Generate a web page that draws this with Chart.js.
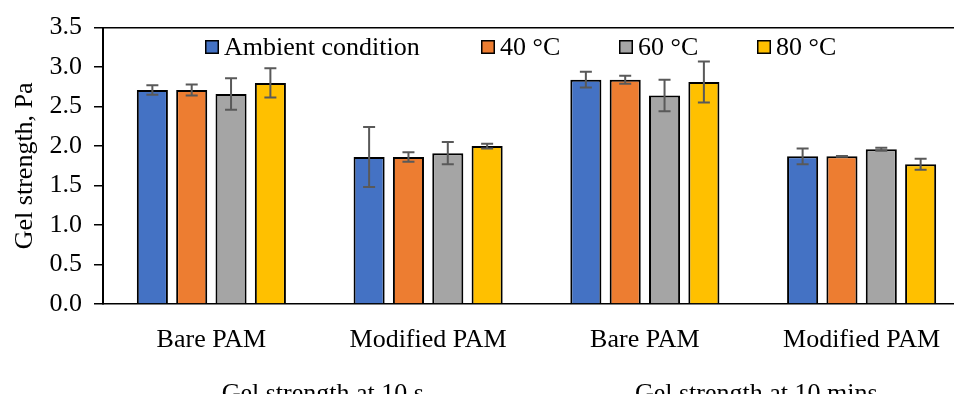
<!DOCTYPE html>
<html>
<head>
<meta charset="utf-8">
<script src="https://cdn.jsdelivr.net/npm/chart.js@4.4.1/dist/chart.umd.min.js"></script>
<style>
html,body{margin:0;padding:0;background:#fff;overflow:hidden;width:954px;height:394px;}
canvas{display:block;}
</style>
</head>
<body>
<canvas id="c" width="970" height="394" style="width:970px;height:394px"></canvas>
<script>
const categories = ['Bare PAM', 'Modified PAM', 'Bare PAM', 'Modified PAM'];
const groupLabels = ['Gel strength at 10 s', 'Gel strength at 10 mins'];
const seriesNames = ['Ambient condition', '40 °C', '60 °C', '80 °C'];
const ambient = [2.71, 1.86, 2.84, 1.87];
const ambientErr = [0.06, 0.38, 0.10, 0.10];
const t40 = [2.71, 1.86, 2.84, 1.87];
const t40Err = [0.07, 0.06, 0.05, 0.005];
const t60 = [2.66, 1.91, 2.64, 1.96];
const t60Err = [0.20, 0.14, 0.20, 0.02];
const t80 = [2.80, 2.00, 2.81, 1.77];
const t80Err = [0.185, 0.03, 0.26, 0.07];
const yTicks = [0, 0.5, 1.0, 1.5, 2.0, 2.5, 3.0, 3.5];

const colors = ['#4472C4', '#ED7D31', '#A5A5A5', '#FFC000'];
const FONT = 'Liberation Serif';

const errorBars = {
  id: 'errorBars',
  afterDatasetsDraw(chart) {
    const ctx = chart.ctx, ys = chart.scales.y;
    ctx.save();
    ctx.strokeStyle = '#595959';
    ctx.lineWidth = 2;
    chart.data.datasets.forEach((ds, i) => {
      const meta = chart.getDatasetMeta(i);
      meta.data.forEach((el, j) => {
        const v = ds.data[j], e = ds.errors[j];
        const yt = ys.getPixelForValue(v + e), yb = ys.getPixelForValue(v - e);
        const x = el.x, cap = 6;
        ctx.beginPath();
        ctx.moveTo(x, yt); ctx.lineTo(x, yb);
        ctx.moveTo(x - cap, yt); ctx.lineTo(x + cap, yt);
        ctx.moveTo(x - cap, yb); ctx.lineTo(x + cap, yb);
        ctx.stroke();
      });
    });
    ctx.restore();
  }
};

const extras = {
  id: 'extras',
  afterDraw(chart) {
    const ctx = chart.ctx, xs = chart.scales.x;
    ctx.save();
    ctx.fillStyle = '#000';
    ctx.font = '26px "' + FONT + '"';
    ctx.textAlign = 'center';
    ctx.textBaseline = 'alphabetic';
    groupLabels.forEach((g, k) => {
      const a = xs.getPixelForValue(2 * k), b = xs.getPixelForValue(2 * k + 1);
      ctx.fillText(g, (a + b) / 2 + 3, 401);
    });
    const startX = 205, col = 138, cols = [0, 2, 3, 4];
    const boxY = 40, box = 14;
    ctx.textAlign = 'left';
    ctx.textBaseline = 'middle';
    chart.data.datasets.forEach((ds, i) => {
      const bx = startX + cols[i] * col;
      ctx.fillStyle = '#000';
      ctx.fillRect(bx, boxY, box, box);
      ctx.fillStyle = ds.backgroundColor;
      ctx.fillRect(bx + 1.5, boxY + 1.5, box - 3, box - 3);
      ctx.fillStyle = '#000';
      ctx.fillText(ds.label, bx + box + 5, boxY + box / 2 + 1);
    });
    ctx.restore();
  }
};

const seriesData = [ambient, t40, t60, t80];
const seriesErr = [ambientErr, t40Err, t60Err, t80Err];

new Chart(document.getElementById('c'), {
  type: 'bar',
  data: {
    labels: categories,
    datasets: seriesNames.map((n, i) => ({
      label: n,
      data: seriesData[i],
      errors: seriesErr[i],
      backgroundColor: colors[i],
      borderColor: '#000',
      borderWidth: 2,
      borderSkipped: 'bottom',
      categoryPercentage: 0.726,
      barPercentage: 0.79
    }))
  },
  options: {
    responsive: false,
    animation: false,
    layout: { padding: { top: 25, left: 0, right: 0, bottom: 0 } },
    plugins: { legend: { display: false }, tooltip: { enabled: false } },
    scales: {
      x: {
        grid: { display: false, drawTicks: false },
        border: { color: '#000', width: 1.5 },
        ticks: { color: '#000', font: { family: FONT, size: 26 }, padding: 21, maxRotation: 0, autoSkip: false },
        afterFit(s) { s.height = 90; }
      },
      y: {
        min: 0, max: 3.5,
        afterBuildTicks(s) { s.ticks = yTicks.map(v => ({ value: v })); },
        grid: {
          color: c => (c.tick && c.tick.value === 3.5 ? '#000' : 'rgba(0,0,0,0)'),
          tickColor: '#000',
          tickLength: 9,
          lineWidth: 1.5
        },
        border: { color: '#000', width: 2 },
        ticks: { color: '#000', font: { family: FONT, size: 26 }, padding: 12, callback: v => Number(v).toFixed(1) },
        title: { display: true, text: 'Gel strength, Pa', color: '#000', font: { family: FONT, size: 26 }, padding: { top: 10, bottom: 0 } },
        afterFit(s) { s.width = 103; }
      }
    }
  },
  plugins: [errorBars, extras]
});
</script>
</body>
</html>
